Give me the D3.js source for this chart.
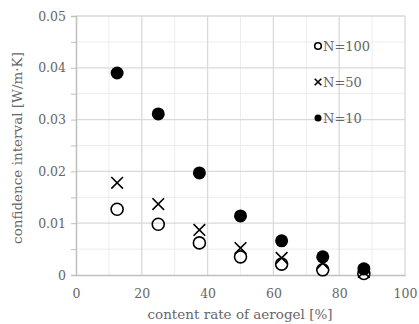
<!DOCTYPE html>
<html>
<head>
<meta charset="utf-8">
<script src="https://cdn.jsdelivr.net/npm/d3@7"></script>
<style>
  body { margin: 0; background: #fff; }
  text { font-family: "DejaVu Serif", "Liberation Serif", serif; fill: #666; }
</style>
</head>
<body>
<svg id="chart" width="419" height="324"></svg>
<script>
const rates = [12.5, 25, 37.5, 50, 62.5, 75, 87.5];
const n100 = [0.0127, 0.0098, 0.0062, 0.0035, 0.0021, 0.0010, 0.0003];
const n50 = [0.0178, 0.0137, 0.0087, 0.0052, 0.0033, 0.0023, 0.0006];
const n10 = [0.0390, 0.0311, 0.0197, 0.0114, 0.0066, 0.0035, 0.0012];
const xTicks = [0, 20, 40, 60, 80, 100];
const yTicks = [0, 0.01, 0.02, 0.03, 0.04, 0.05];
const legendNames = ["N=100", "N=50", "N=10"];

const svg = d3.select("#chart");
const margin = {left: 76, right: 14, top: 16, bottom: 49};
const width = 419 - margin.left - margin.right;
const height = 324 - margin.top - margin.bottom;

const x = d3.scaleLinear().domain([0, 100]).range([margin.left, margin.left + width]);
const y = d3.scaleLinear().domain([0, 0.05]).range([margin.top + height, margin.top]);

// minor grid
const g = svg.append("g");
g.selectAll(".vminor")
  .data(d3.range(10, 100, 20))
  .enter().append("line")
  .attr("x1", d => x(d)).attr("x2", d => x(d))
  .attr("y1", y(0)).attr("y2", y(0.05))
  .attr("stroke", "#ededed").attr("stroke-width", 1);
g.selectAll(".hminor")
  .data([0.005, 0.015, 0.025, 0.035, 0.045])
  .enter().append("line")
  .attr("x1", x(0)).attr("x2", x(100))
  .attr("y1", d => y(d)).attr("y2", d => y(d))
  .attr("stroke", "#ededed").attr("stroke-width", 1);
// major grid
g.selectAll(".vmajor")
  .data(xTicks.slice(1))
  .enter().append("line")
  .attr("x1", d => x(d)).attr("x2", d => x(d))
  .attr("y1", y(0)).attr("y2", y(0.05))
  .attr("stroke", "#d9d9d9").attr("stroke-width", 1.3);
g.selectAll(".hmajor")
  .data(yTicks.slice(1))
  .enter().append("line")
  .attr("x1", x(0)).attr("x2", x(100))
  .attr("y1", d => y(d)).attr("y2", d => y(d))
  .attr("stroke", "#d9d9d9").attr("stroke-width", 1.3);

// axes
const yAxis = svg.append("g")
  .attr("transform", `translate(${margin.left},0)`)
  .call(d3.axisLeft(y).tickValues(d3.range(0, 0.0501, 0.005)).tickSize(5)
    .tickFormat(d => yTicks.some(t => Math.abs(t - d) < 1e-9) ? d3.format("")(+d.toFixed(2)) : ""));
yAxis.select(".domain").attr("stroke", "#bfbfbf").attr("stroke-width", 1.5);
yAxis.selectAll(".tick line").attr("stroke", "#bfbfbf");
yAxis.selectAll("text").attr("x", -10).style("font-size", "12.5px").style("fill", "#666");

const xAxis = svg.append("g")
  .attr("transform", `translate(0,${margin.top + height})`)
  .call(d3.axisBottom(x).tickValues(xTicks).tickSize(0).tickPadding(14));
xAxis.select(".domain").attr("stroke", "#bfbfbf").attr("stroke-width", 1.5);
xAxis.selectAll("text").style("font-size", "12.5px").style("fill", "#666");

// titles
svg.append("text")
  .attr("x", 240).attr("y", 319)
  .attr("text-anchor", "middle")
  .style("font-size", "13.5px")
  .text("content rate of aerogel [%]");
svg.append("text")
  .attr("transform", `translate(17,148) rotate(-90)`)
  .attr("dy", "0.35em")
  .attr("text-anchor", "middle")
  .style("font-size", "13.5px")
  .text("confidence interval [W/m·K]");

// series
const pts = arr => rates.map((r, i) => ({r: r, v: arr[i]}));

svg.append("g").selectAll("circle")
  .data(pts(n100)).enter().append("circle")
  .attr("cx", d => x(d.r)).attr("cy", d => y(d.v)).attr("r", 6)
  .attr("fill", "none").attr("stroke", "#000").attr("stroke-width", 1.6);

const cross = d3.symbol().type(d3.symbolX).size(90);
svg.append("g").selectAll("path")
  .data(pts(n50)).enter().append("path")
  .attr("transform", d => `translate(${x(d.r)},${y(d.v)})`)
  .attr("d", cross)
  .attr("fill", "none").attr("stroke", "#000").attr("stroke-width", 1.6);

svg.append("g").selectAll("circle")
  .data(pts(n10)).enter().append("circle")
  .attr("cx", d => x(d.r)).attr("cy", d => y(d.v)).attr("r", 6.5)
  .attr("fill", "#000");

// legend
const leg = svg.append("g").attr("transform", "translate(318,46)");
legendNames.forEach((name, i) => {
  const row = leg.append("g").attr("transform", `translate(0,${i * 36})`);
  if (i === 0) {
    row.append("circle").attr("r", 3.3).attr("fill", "none").attr("stroke", "#000").attr("stroke-width", 1.6);
  } else if (i === 1) {
    row.append("path").attr("d", d3.symbol().type(d3.symbolX).size(30)).attr("fill", "none")
      .attr("stroke", "#000").attr("stroke-width", 1.6);
  } else {
    row.append("circle").attr("r", 3.5).attr("fill", "#000");
  }
  row.append("text").attr("x", 5).attr("dy", "0.35em")
    .style("font-size", "13px").text(name);
});
</script>
</body>
</html>
